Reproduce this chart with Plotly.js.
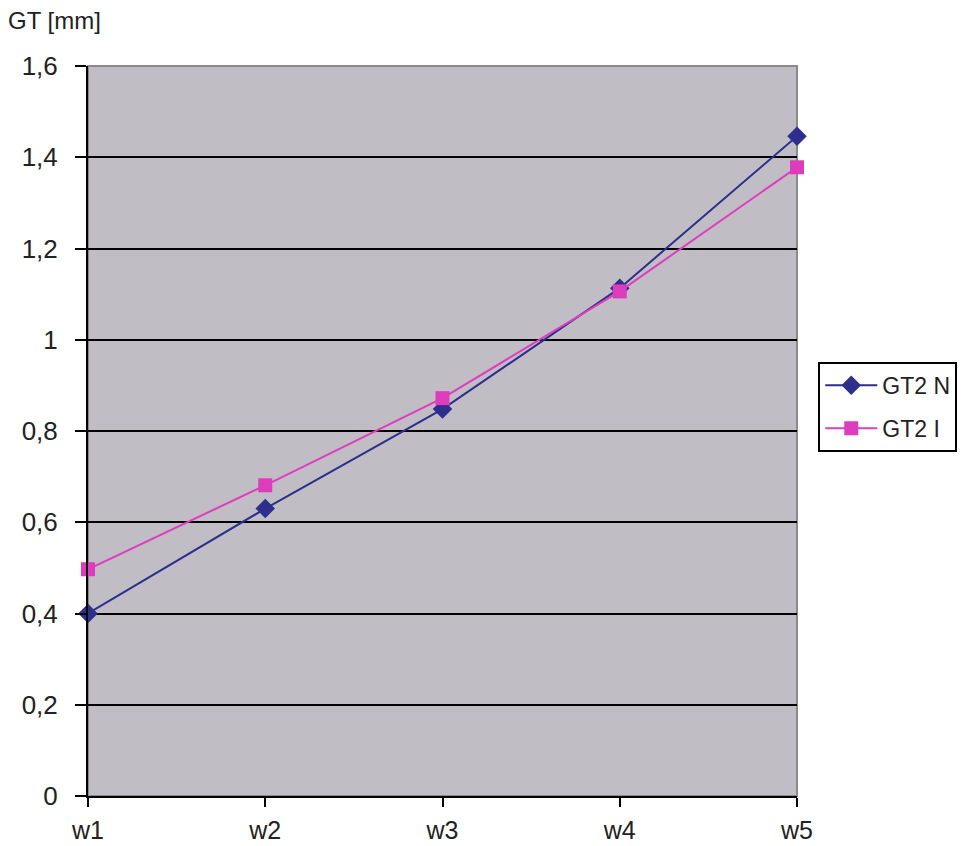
<!DOCTYPE html>
<html>
<head>
<meta charset="utf-8">
<script src="https://cdn.plot.ly/plotly-3.0.1.min.js"></script>
<style>
  body { margin: 0; background: #fff; }
  #chart { width: 969px; height: 846px; }
</style>
</head>
<body>
<div id="chart"></div>
<script>
let categories = ["w1", "w2", "w3", "w4", "w5"];
let gt2_n = [0.40, 0.63, 0.848, 1.113, 1.446];
let gt2_i = [0.497, 0.681, 0.872, 1.106, 1.378];
let y_ticks = [0, 0.2, 0.4, 0.6, 0.8, 1, 1.2, 1.4, 1.6];

let font_name = "Liberation Sans, Arial, sans-serif";

let trace_n = {
    x: categories,
    y: gt2_n,
    type: "scatter",
    mode: "lines+markers",
    name: "GT2 N",
    legendgroup: "n",
    cliponaxis: false,
    line: { color: "#2e2e8c", width: 2 },
    marker: { symbol: "diamond", size: 15, color: "#2e2e8c" }
};
let trace_i = {
    x: categories,
    y: gt2_i,
    type: "scatter",
    mode: "lines+markers",
    name: "GT2 I",
    legendgroup: "i",
    cliponaxis: false,
    line: { color: "#e03cc0", width: 2 },
    marker: { symbol: "square", size: 14, color: "#dd3dbd" }
};

let layout = {
    width: 969,
    height: 846,
    separators: ",.",
    paper_bgcolor: "#ffffff",
    plot_bgcolor: "#c0bdc5",
    margin: { l: 88, r: 172, t: 66, b: 50, autoexpand: false },
    font: { family: font_name, size: 22, color: "#222" },
    showlegend: true,
    legend: {
        x: 1.03, xanchor: "left",
        y: 0.533, yanchor: "middle",
        bgcolor: "#fff",
        bordercolor: "#000",
        borderwidth: 2,
        itemwidth: 52,
        font: { size: 23, color: "#222" },
        tracegroupgap: 10
    },
    xaxis: {
        type: "category",
        range: [0, 4],
        showgrid: false,
        zeroline: false,
        showline: true,
        linecolor: "#000",
        linewidth: 2,
        ticks: "outside",
        ticklen: 9,
        tickwidth: 2,
        tickcolor: "#000",
        ticklabelstandoff: 2,
        tickfont: { size: 25, color: "#222" },
        fixedrange: true
    },
    yaxis: {
        range: [0, 1.6],
        tickvals: y_ticks,
        showgrid: true,
        gridcolor: "#000",
        gridwidth: 2,
        zeroline: false,
        showline: true,
        linecolor: "#000",
        linewidth: 2,
        ticks: "outside",
        ticklen: 11,
        tickwidth: 2,
        tickcolor: "#000",
        ticklabelstandoff: 12,
        tickfont: { size: 26, color: "#222" },
        fixedrange: true
    },
    shapes: [{
        type: "rect",
        xref: "paper", yref: "paper",
        x0: 0, x1: 1, y0: 0, y1: 1,
        line: { color: "#8a8a8a", width: 2 },
        layer: "below"
    }],
    annotations: [{
        text: "GT [mm]",
        xref: "paper", yref: "paper",
        x: -0.116, y: 1.063,
        xanchor: "left", yanchor: "middle",
        showarrow: false,
        font: { size: 24, color: "#222" }
    }]
};

Plotly.newPlot("chart", [trace_n, trace_i], layout, { displayModeBar: false, staticPlot: true });
</script>
</body>
</html>
